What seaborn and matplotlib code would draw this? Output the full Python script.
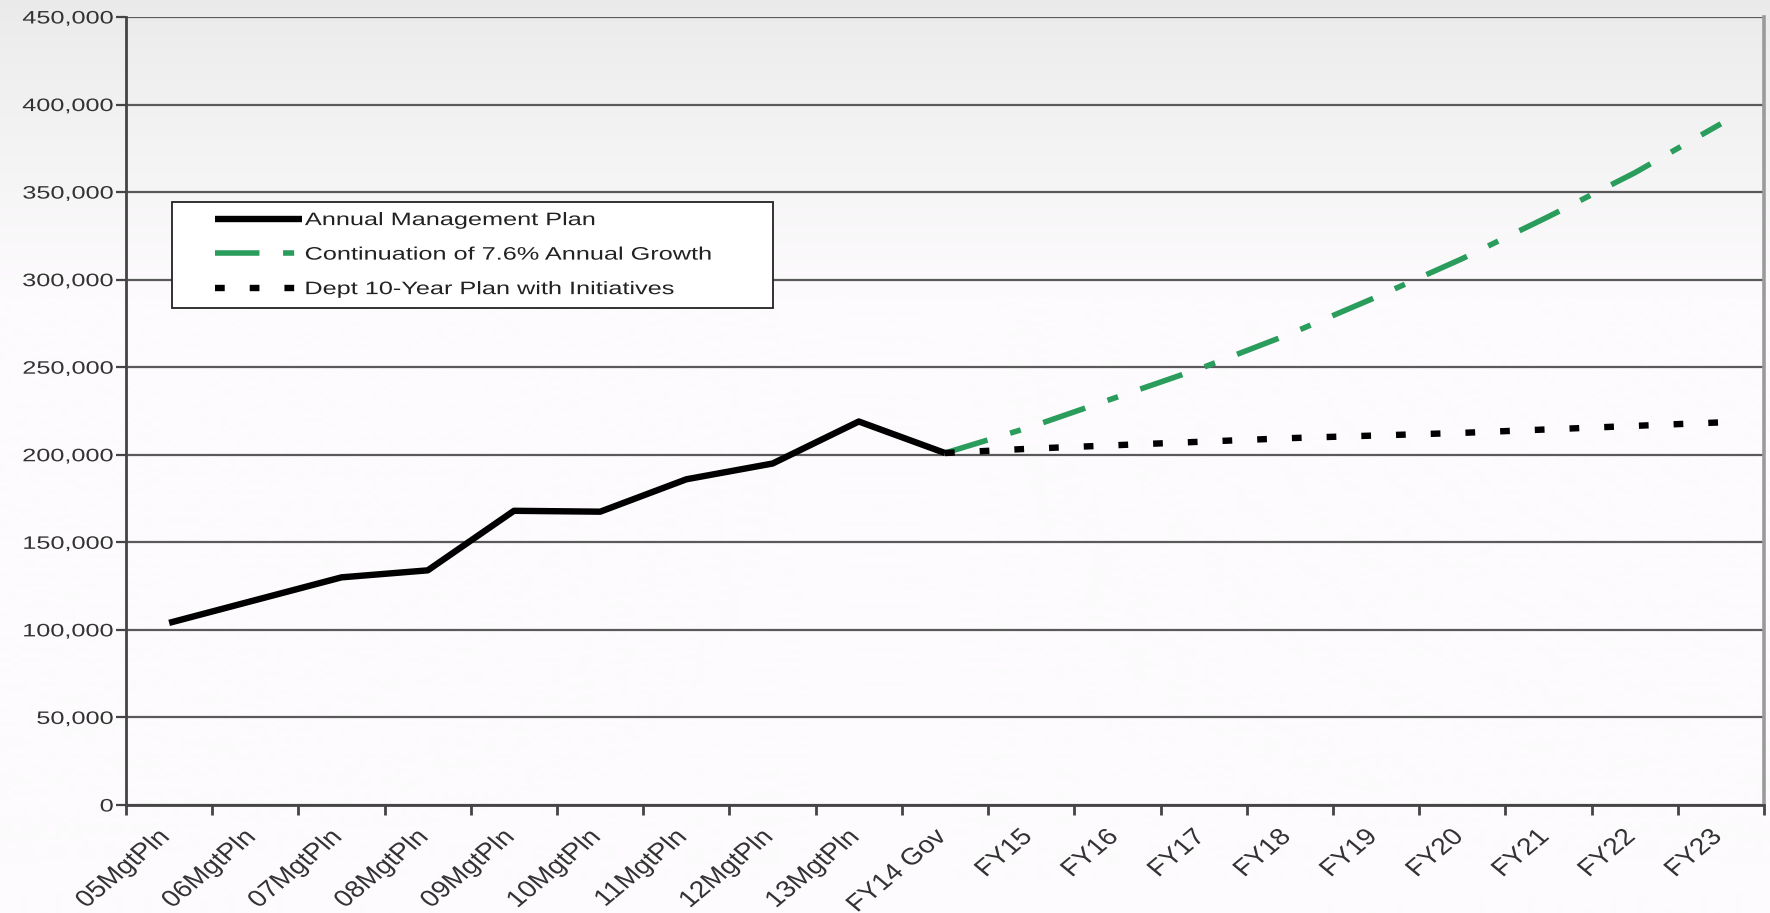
import numpy as np
import pandas as pd
import matplotlib
matplotlib.use("Agg")
import matplotlib.pyplot as plt
from matplotlib.colors import LinearSegmentedColormap
from matplotlib.ticker import FixedLocator, FuncFormatter
from matplotlib.transforms import Affine2D
from matplotlib.patheffects import AbstractPathEffect
from matplotlib.legend_handler import HandlerLine2D
import seaborn as sns

# Categories along the x axis
categories = ["05MgtPln", "06MgtPln", "07MgtPln", "08MgtPln", "09MgtPln",
              "10MgtPln", "11MgtPln", "12MgtPln", "13MgtPln", "FY14 Gov",
              "FY15", "FY16", "FY17", "FY18", "FY19", "FY20", "FY21",
              "FY22", "FY23"]

# Annual Management Plan (05MgtPln .. FY14 Gov)
mgmt_labels = categories[:10]
mgmt_values = [104000, 117000, 130000, 134000, 168000,
               167500, 186000, 195000, 219000, 201000]

# Continuation of 7.6% annual growth (FY14 Gov .. FY23)
proj_labels = categories[9:]
growth_values = [201000, 216000, 233000, 250000, 269000,
                 290000, 312000, 336000, 361000, 389000]

# Dept 10-Year Plan with Initiatives (FY14 Gov .. FY23)
plan_values = [201000, 203500, 205500, 207500, 209500,
               211000, 212500, 214500, 216500, 218500]

y_ticks = [0, 50000, 100000, 150000, 200000, 250000, 300000, 350000, 400000, 450000]


class StretchX(AbstractPathEffect):
    """Draw text glyphs widened horizontally, pinned at one side."""

    def __init__(self, sx=1.4, anchor="right"):
        super().__init__()
        self.sx = sx
        self.anchor = anchor

    def draw_path(self, renderer, gc, tpath, affine, rgbFace=None):
        ext = affine.transform_path(tpath).get_extents()
        x0 = ext.x1 if self.anchor == "right" else ext.x0
        stretch = Affine2D().translate(-x0, 0).scale(self.sx, 1).translate(x0, 0)
        renderer.draw_path(gc, tpath, affine + stretch, rgbFace)


sns.set_theme(style="white")
plt.rcParams["font.family"] = ["Liberation Sans", "DejaVu Sans"]
plt.rcParams["lines.scale_dashes"] = False

FS = 13
SX = 1.4
XFS = 17
XSX = 1.2

fig = plt.figure(figsize=(17.7, 9.13), dpi=100)

# Soft grey-to-white backdrop behind everything
bg = fig.add_axes([0, 0, 1, 1], zorder=-10)
grad = np.ones((913, 1))
n_fade = 300
grad[:n_fade, 0] = np.linspace(0.0, 1.0, n_fade) ** 0.8
bg_cmap = LinearSegmentedColormap.from_list("bg", ["#e9eae9", "#fdfbfd"])
bg.imshow(grad, aspect="auto", cmap=bg_cmap, vmin=0, vmax=1,
          extent=[0, 1, 0, 1], origin="upper")
bg.set_axis_off()

ax = fig.add_axes([0.0712, 0.1183, 0.9966 - 0.0712, 0.9814 - 0.1183])
ax.set_facecolor("none")

pos = {c: i for i, c in enumerate(categories)}
mgmt_df = pd.DataFrame({"x": [pos[c] for c in mgmt_labels], "y": mgmt_values})
growth_df = pd.DataFrame({"x": [pos[c] for c in proj_labels], "y": growth_values})
plan_df = pd.DataFrame({"x": [pos[c] for c in proj_labels], "y": plan_values})

sns.lineplot(data=growth_df, x="x", y="y", ax=ax, color="#2a9d5c",
             linewidth=4.0, label="Continuation of 7.6% Annual Growth", zorder=3)
growth_line = ax.lines[-1]
growth_line.set_dashes((32, 17, 8, 17))
growth_line.set_dash_capstyle("butt")

sns.lineplot(data=plan_df, x="x", y="y", ax=ax, color="black",
             linewidth=4.6, label="Dept 10-Year Plan with Initiatives", zorder=3)
plan_line = ax.lines[-1]
plan_line.set_dashes((7, 18))
plan_line.set_dash_capstyle("butt")

sns.lineplot(data=mgmt_df, x="x", y="y", ax=ax, color="black",
             linewidth=4.6, label="Annual Management Plan", zorder=4)
ax.lines[-1].set_solid_capstyle("butt")

# Axes limits and ticks
ax.set_xlim(-0.5, len(categories) - 0.5)
ax.set_ylim(0, 450000)
ax.xaxis.set_major_locator(FixedLocator(np.arange(-0.5, len(categories), 1.0)))
ax.xaxis.set_major_formatter(FuncFormatter(lambda v, p: ""))
ax.set_xticks(np.arange(len(categories)) - 0.12, minor=True)
ax.set_xticklabels(categories, minor=True, rotation=45, ha="right", va="top",
                   rotation_mode="anchor", fontsize=XFS, color="#333333")
ax.tick_params(axis="x", which="major", bottom=True, length=7, width=2.0,
               color="#444444", direction="out")
ax.tick_params(axis="x", which="minor", bottom=True, length=0, pad=15)

ax.set_yticks(y_ticks)
ax.yaxis.set_major_formatter(FuncFormatter(lambda v, p: f"{int(v):,}"))
ax.tick_params(axis="y", left=True, length=7, width=1.6, color="#444444",
               direction="out", labelsize=FS, labelcolor="#333333", pad=2)

ax.grid(axis="y", color="#5a5a5a", linewidth=1.6)
ax.grid(axis="x", visible=False)
ax.set_axisbelow(True)
ax.set_xlabel("")
ax.set_ylabel("")

for side in ["left", "bottom"]:
    ax.spines[side].set_color("#444444")
    ax.spines[side].set_linewidth(2.0)
ax.spines["right"].set_color("#9a9a9a")
ax.spines["right"].set_linewidth(2.6)
ax.spines["top"].set_visible(False)

for lbl in ax.get_xticklabels(minor=True):
    lbl.set_path_effects([StretchX(XSX, "right")])
for lbl in ax.get_yticklabels():
    lbl.set_path_effects([StretchX(SX, "right")])

# Legend in the order of the series
handles, labels = ax.get_legend_handles_labels()
order = [labels.index("Annual Management Plan"),
         labels.index("Continuation of 7.6% Annual Growth"),
         labels.index("Dept 10-Year Plan with Initiatives")]
leg = ax.legend([handles[i] for i in order], [labels[i] for i in order],
                loc="upper left", bbox_to_anchor=(0.028, 0.4, 0.367, 0.365),
                mode="expand", fontsize=FS, frameon=True, fancybox=False,
                framealpha=1, edgecolor="#222222", facecolor="white",
                handlelength=6.65, handletextpad=0.17, borderpad=0.55,
                labelspacing=0.97, borderaxespad=0,
                handler_map={h: HandlerLine2D(xpad=1.83) for h in handles})
leg.get_frame().set_linewidth(1.3)
for t in leg.get_texts():
    t.set_color("#222222")
    t.set_path_effects([StretchX(SX, "left")])

fig.savefig("out.png", dpi=100)
